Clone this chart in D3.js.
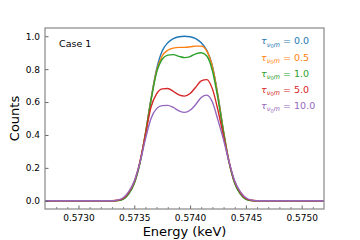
<!DOCTYPE html>
<html>
<head>
<meta charset="utf-8">
<script src="https://cdn.jsdelivr.net/npm/d3@7"></script>
<style>
  html, body { margin: 0; padding: 0; background: #fff; }
  svg { display: block; font-family: "DejaVu Sans", sans-serif; }
</style>
</head>
<body>
<svg id="chart" width="360" height="240"></svg>
<script>
// ---- data ----
const energy = [0.5727, 0.5733,
  0.57335, 0.57340, 0.57345, 0.57350, 0.57355, 0.57360, 0.57365, 0.57370, 0.57375, 0.57380, 0.57385, 0.57390,
  0.57395,
  0.57400, 0.57405, 0.57410, 0.57415, 0.57420, 0.57425, 0.57430, 0.57435, 0.57440, 0.57445, 0.57450, 0.57455,
  0.5746, 0.5752];

const tau00 = [0, 0,
  0.002, 0.012, 0.045, 0.11, 0.23, 0.41, 0.62, 0.80, 0.91, 0.96, 0.985, 0.997,
  1.0,
  0.997, 0.985, 0.96, 0.915, 0.82, 0.64, 0.42, 0.235, 0.11, 0.045, 0.012, 0.002,
  0, 0];
const tau05 = [0, 0,
  0.002, 0.012, 0.045, 0.11, 0.23, 0.41, 0.615, 0.79, 0.88, 0.915, 0.928, 0.932,
  0.932,
  0.935, 0.94, 0.94, 0.91, 0.815, 0.635, 0.42, 0.235, 0.11, 0.045, 0.012, 0.002,
  0, 0];
const tau10 = [0, 0,
  0.001, 0.009, 0.04, 0.105, 0.225, 0.405, 0.61, 0.78, 0.86, 0.885, 0.888, 0.878,
  0.87,
  0.876, 0.893, 0.9, 0.88, 0.79, 0.62, 0.415, 0.23, 0.105, 0.04, 0.009, 0.001,
  0, 0];
const tau50 = [0, 0,
  0.003, 0.014, 0.05, 0.115, 0.235, 0.40, 0.57, 0.65, 0.68, 0.682, 0.665, 0.643,
  0.636,
  0.652, 0.69, 0.728, 0.736, 0.68, 0.55, 0.39, 0.235, 0.115, 0.05, 0.014, 0.003,
  0, 0];
const tau100 = [0, 0,
  0.004, 0.018, 0.055, 0.12, 0.23, 0.375, 0.50, 0.56, 0.578, 0.58, 0.567, 0.547,
  0.537,
  0.55, 0.585, 0.628, 0.642, 0.60, 0.49, 0.37, 0.235, 0.12, 0.055, 0.018, 0.004,
  0, 0];

const seriesLabels = ["0.0", "0.5", "1.0", "5.0", "10.0"];
const seriesValues = [tau00, tau05, tau10, tau50, tau100];
const colors = ["#1f77b4", "#ff7f0e", "#2ca02c", "#d62728", "#9467bd"];

const xTicks = [0.5730, 0.5735, 0.5740, 0.5745, 0.5750];
const xTickLabels = ["0.5730", "0.5735", "0.5740", "0.5745", "0.5750"];
const xMinorTicks = [0.5728, 0.5729, 0.5731, 0.5732, 0.5733, 0.5734, 0.5736, 0.5737, 0.5738, 0.5739,
  0.5741, 0.5742, 0.5743, 0.5744, 0.5746, 0.5747, 0.5748, 0.5749, 0.5751];
const yTicks = [0.0, 0.2, 0.4, 0.6, 0.8, 1.0];
const yTickLabels = ["0.0", "0.2", "0.4", "0.6", "0.8", "1.0"];

// ---- layout ----
const L = 45, R = 324, T = 28, B = 209;
const svg = d3.select("#chart");
svg.append("rect").attr("width", 360).attr("height", 240).attr("fill", "#fff");

const x = d3.scaleLinear().domain([0.5727, 0.5752]).range([L, R]);
const y = d3.scaleLinear().domain([-0.05, 1.05]).range([B, T]);

svg.append("clipPath").attr("id", "clip")
  .append("rect").attr("x", L).attr("y", T).attr("width", R - L).attr("height", B - T);

// lines
const line = d3.line()
  .x((d, i) => x(energy[i]))
  .y(d => y(d))
  .curve(d3.curveMonotoneX);

const g = svg.append("g").attr("clip-path", "url(#clip)");
seriesValues.forEach((vals, si) => {
  g.append("path")
    .attr("d", line(vals))
    .attr("fill", "none")
    .attr("stroke", colors[si])
    .attr("stroke-width", 1.4)
    .attr("stroke-linejoin", "round");
});

// axes
const tickColor = "#555";
const xAxis = d3.axisBottom(x).tickValues(xTicks)
  .tickFormat((d, i) => xTickLabels[i]).tickSize(-3.5).tickPadding(5.5);
const gx = svg.append("g").attr("transform", `translate(0,${B})`).call(xAxis);
gx.select(".domain").remove();
gx.selectAll("line").attr("stroke", tickColor).attr("stroke-width", 0.9);
gx.selectAll("text").attr("font-size", 9).attr("fill", "#000")
  .attr("font-family", "DejaVu Sans");

const xMinor = d3.axisBottom(x).tickValues(xMinorTicks).tickFormat("").tickSize(-2);
const gxm = svg.append("g").attr("transform", `translate(0,${B})`).call(xMinor);
gxm.select(".domain").remove();
gxm.selectAll("line").attr("stroke", tickColor).attr("stroke-width", 0.7);

const yAxis = d3.axisLeft(y).tickValues(yTicks)
  .tickFormat((d, i) => yTickLabels[i]).tickSize(-3.5).tickPadding(5);
const gy = svg.append("g").attr("transform", `translate(${L},0)`).call(yAxis);
gy.select(".domain").remove();
gy.selectAll("line").attr("stroke", tickColor).attr("stroke-width", 0.9);
gy.selectAll("text").attr("font-size", 9).attr("fill", "#000")
  .attr("font-family", "DejaVu Sans");

// frame
svg.append("rect").attr("x", L).attr("y", T).attr("width", R - L).attr("height", B - T)
  .attr("fill", "none").attr("stroke", "#888").attr("stroke-width", 1.2);

// axis labels
svg.append("text").attr("x", (L + R) / 2).attr("y", 236)
  .attr("text-anchor", "middle").attr("font-size", 13).attr("fill", "#000")
  .text("Energy (keV)");
svg.append("text")
  .attr("transform", `translate(18.5,${(T + B) / 2}) rotate(-90)`)
  .attr("text-anchor", "middle").attr("font-size", 13).attr("fill", "#000")
  .text("Counts");

// annotation
svg.append("text").attr("x", 59).attr("y", 46.5)
  .attr("font-size", 9.5).attr("fill", "#000").text("Case 1");

// legend
const legBase = [44.3, 60.5, 76.7, 92.9, 109.1];
seriesLabels.forEach((lab, i) => {
  const t = svg.append("text").attr("x", 261).attr("y", legBase[i])
    .attr("font-size", 9.5).attr("fill", colors[i]);
  t.append("tspan").attr("font-style", "italic").text("τ");
  t.append("tspan").attr("dy", 2.2).attr("font-size", 6.6).attr("font-style", "italic").text("ν");
  t.append("tspan").attr("dy", 1.3).attr("font-size", 5).text("0");
  t.append("tspan").attr("dy", -1.3).attr("font-size", 6.6).attr("font-style", "italic").text("m");
  t.append("tspan").attr("dy", -2.2).attr("font-size", 9.5).text(" = " + lab);
});
</script>
</body>
</html>
